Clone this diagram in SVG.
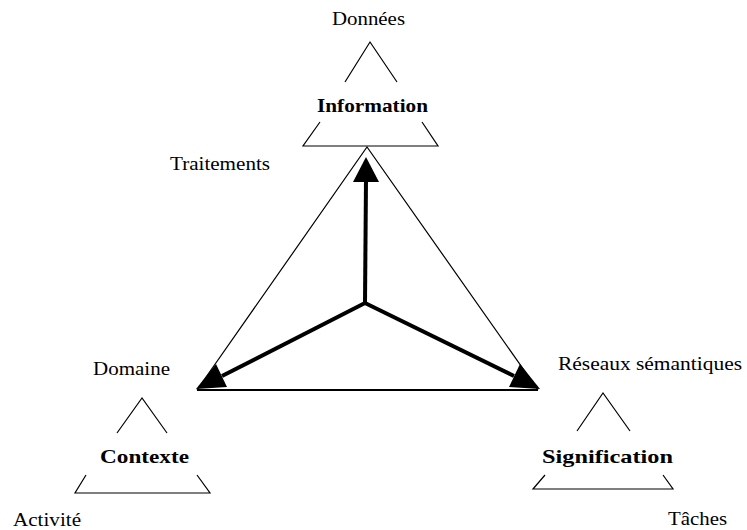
<svg xmlns="http://www.w3.org/2000/svg" width="747" height="530" viewBox="0 0 747 530">
<style>
.t{font-family:"Liberation Serif","Times New Roman",serif;font-size:19px;fill:#000}
.b{font-weight:bold}
.thin{fill:none;stroke:#000;stroke-width:1.2}
.thick{fill:none;stroke:#000;stroke-width:4}
.head{fill:#000}
</style>
<rect width="747" height="530" fill="#fff"/>
<g id="information">
<text class="t" x="332" y="25" textLength="73" lengthAdjust="spacingAndGlyphs">Données</text>
<polyline class="thin" points="345,82 370,42 397,82"/>
<text class="t b" x="317" y="112" textLength="111" lengthAdjust="spacingAndGlyphs">Information</text>
<polyline class="thin" points="320,122 303,146 438,146 422,122"/>
</g>
<g id="contexte">
<text class="t" x="93" y="375" textLength="77" lengthAdjust="spacingAndGlyphs">Domaine</text>
<polyline class="thin" points="117,433 142,398 167,433"/>
<text class="t b" x="100" y="463" textLength="89" lengthAdjust="spacingAndGlyphs">Contexte</text>
<polyline class="thin" points="86,475 75,493 210,493 197,475"/>
<text class="t" x="13" y="526" textLength="68" lengthAdjust="spacingAndGlyphs">Activité</text>
</g>
<g id="signification">
<text class="t" x="558" y="370" textLength="184" lengthAdjust="spacingAndGlyphs">Réseaux sémantiques</text>
<polyline class="thin" points="577,431 603,393 630,431"/>
<text class="t b" x="542" y="463" textLength="131" lengthAdjust="spacingAndGlyphs">Signification</text>
<polyline class="thin" points="545,475 533,489 673,489 663,475"/>
<text class="t" x="668" y="525" textLength="59" lengthAdjust="spacingAndGlyphs">Tâches</text>
</g>
<g id="traitements">
<text class="t" x="170" y="170" textLength="100" lengthAdjust="spacingAndGlyphs">Traitements</text>
</g>
<g id="connectors">
<polyline class="thin" points="197,390 367,147 538,390"/>
<line x1="197" y1="390" x2="538" y2="390" stroke="#000" stroke-width="2"/>
<line class="thick" x1="365" y1="303" x2="366" y2="180"/>
<polygon class="head" points="366,157 353,182 379,182"/>
<line class="thick" x1="365" y1="303" x2="222" y2="376"/>
<polygon class="head" points="196,389 227,387 216,364"/>
<line class="thick" x1="365" y1="303" x2="514" y2="376"/>
<polygon class="head" points="540,389 509,387 520,364"/>
</g>
</svg>
